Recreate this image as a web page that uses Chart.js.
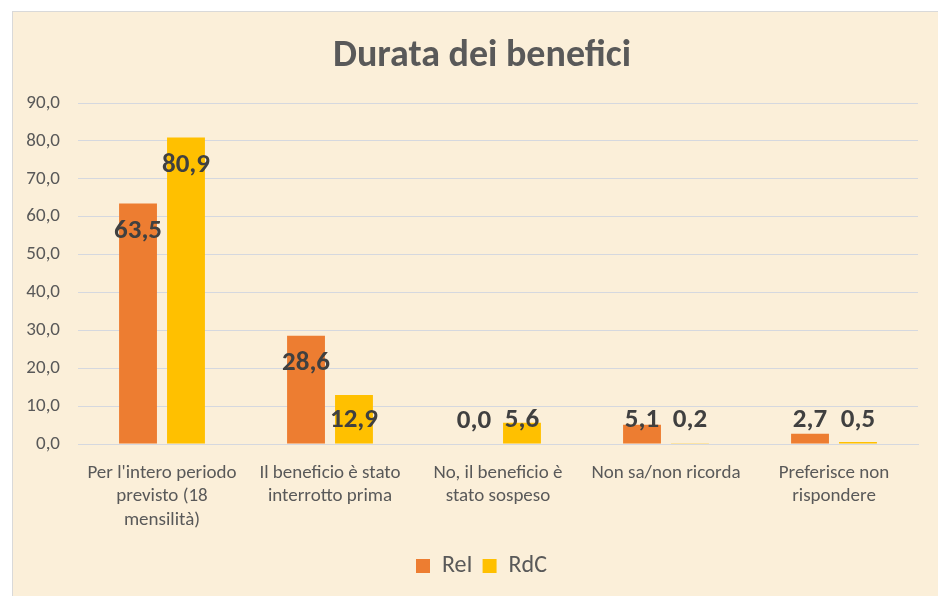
<!DOCTYPE html>
<html>
<head>
<meta charset="utf-8">
<script src="https://cdn.jsdelivr.net/npm/chart.js@4"></script>
<style>
  html, body { margin: 0; padding: 0; background: #ffffff; overflow: hidden; }
  #frame {
    position: absolute; left: 12px; top: 11px;
    width: 926px; height: 585px; overflow: hidden;
    border-left: 1px solid #d9d9d9; border-top: 1px solid #d9d9d9;
    background: #fbefd9;
  }
  #frame canvas { display: block; }
</style>
</head>
<body>
<div id="frame"><canvas id="durataChart" width="958" height="585"></canvas></div>
<script>
// Durata dei benefici - ReI vs RdC
const chartTitle = 'Durata dei benefici';
const categories = [
    ["Per l'intero periodo", "previsto (18", "mensilità)"],
    ["Il beneficio è stato", "interrotto prima"],
    ["No, il beneficio è", "stato sospeso"],
    ["Non sa/non ricorda"],
    ["Preferisce non", "rispondere"],
];
const reiValues = [63.5, 28.6, 0.0, 5.1, 2.7];
const rdcValues = [80.9, 12.9, 5.6, 0.2, 0.5];
const yMax = 90;
const yStep = 10;

const fontFamily = "Calibri, Lato, 'Liberation Sans', sans-serif";
const fmt = v => v.toFixed(1).replace('.', ',');

// title sits a bit left of the plot centre, like the original
const titleDraw = {
    id: 'titleDraw',
    afterDraw(chart) {
        const ctx = chart.ctx;
        const area = chart.chartArea;
        ctx.save();
        ctx.font = 'bold 38px ' + fontFamily;
        ctx.fillStyle = '#595959';
        ctx.textAlign = 'center';
        ctx.textBaseline = 'middle';
        ctx.fillText(chartTitle, (area.left + area.right) / 2 - 16, 44);
        ctx.restore();
    }
};

// value labels: inside the top of tall bars, just above the axis for short ones
const valueLabels = {
    id: 'valueLabels',
    afterDatasetsDraw(chart) {
        const ctx = chart.ctx;
        ctx.save();
        ctx.font = 'bold 27px ' + fontFamily;
        ctx.fillStyle = '#404040';
        ctx.textAlign = 'center';
        ctx.textBaseline = 'middle';
        chart.data.datasets.forEach((ds, i) => {
            chart.getDatasetMeta(i).data.forEach((bar, j) => {
                const y = Math.min(bar.y + 28, bar.base - 23);
                ctx.fillText(fmt(ds.data[j]), bar.x, y);
            });
        });
        ctx.restore();
    }
};

const ctx = document.getElementById('durataChart').getContext('2d');
const durataChart = new Chart(ctx, {
    type: 'bar',
    data: {
        labels: categories,
        datasets: [
            {
                label: 'ReI',
                data: reiValues,
                backgroundColor: '#ed7d31',
                categoryPercentage: 0.571,
                barPercentage: 0.79,
            },
            {
                label: 'RdC',
                data: rdcValues,
                backgroundColor: '#ffc000',
                categoryPercentage: 0.571,
                barPercentage: 0.79,
            },
        ],
    },
    options: {
        responsive: false,
        animation: false,
        layout: { padding: { left: 0, right: 21, top: 91, bottom: 9 } },
        plugins: {
            title: { display: false },
            legend: {
                position: 'bottom',
                labels: {
                    color: '#595959',
                    font: { family: fontFamily, size: 24 },
                    boxWidth: 14,
                    boxHeight: 14,
                    padding: 10,
                },
            },
            tooltip: { enabled: false },
        },
        scales: {
            x: {
                grid: { display: false },
                border: { color: '#d5d8df' },
                ticks: {
                    color: '#595959',
                    font: { family: fontFamily, size: 19, lineHeight: 1.25 },
                    padding: 9,
                    maxRotation: 0,
                    autoSkip: false,
                },
                afterFit(scale) { scale.height = 100; },
            },
            y: {
                min: 0,
                max: yMax,
                grid: { color: '#d5d8df', drawTicks: false },
                border: { display: false },
                ticks: {
                    stepSize: yStep,
                    color: '#595959',
                    font: { family: fontFamily, size: 19 },
                    padding: 18,
                    callback: v => fmt(v),
                },
                afterFit(scale) { scale.width = 65; },
            },
            // empty spacer on the right so the plot ends where the original does
            spacer: {
                position: 'right',
                min: 0,
                max: yMax,
                grid: { display: false },
                border: { display: false },
                ticks: { display: false },
                afterFit(scale) { scale.width = 32; },
            },
        },
    },
    plugins: [valueLabels, titleDraw],
});
</script>
</body>
</html>
